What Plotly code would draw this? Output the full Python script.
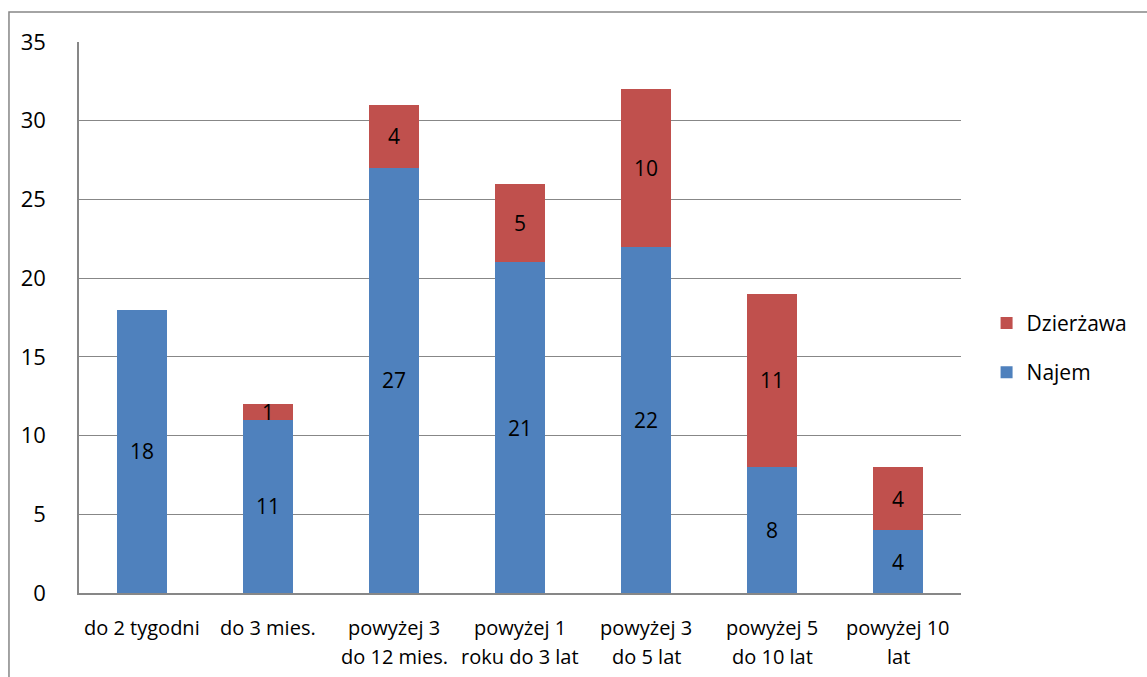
import plotly.graph_objects as go

categories = ["do 2 tygodni", "do 3 mies.", "powyżej 3 do 12 mies.", "powyżej 1 roku do 3 lat",
              "powyżej 3 do 5 lat", "powyżej 5 do 10 lat", "powyżej 10 lat"]
label_line1 = ["do 2 tygodni", "do 3 mies.", "powyżej 3", "powyżej 1", "powyżej 3", "powyżej 5", "powyżej 10"]
label_line2 = ["", "", "do 12 mies.", "roku do 3 lat", "do 5 lat", "do 10 lat", "lat"]
najem = [18, 11, 27, 21, 22, 8, 4]
dzierzawa = [None, 1, 4, 5, 10, 11, 4]
y_ticks = [0, 5, 10, 15, 20, 25, 30, 35]

FONT = "Open Sans"
GRID = "#878787"

fig = go.Figure()
fig.add_trace(go.Bar(
    x=categories, y=najem, name="Najem", legendgroup="a", legendrank=2,
    marker=dict(color="#4F81BD", line=dict(width=0)),
    text=najem, texttemplate="%{text}", textposition="inside",
    insidetextanchor="middle", constraintext="none", textangle=0,
    textfont=dict(family=FONT, size=21, color="black"),
))
fig.add_trace(go.Bar(
    x=categories, y=dzierzawa, name="Dzierżawa", legendgroup="b", legendrank=1,
    marker=dict(color="#C0504D", line=dict(width=0)),
    text=dzierzawa, texttemplate="%{text}", textposition="inside",
    insidetextanchor="middle", constraintext="none", textangle=0,
    textfont=dict(family=FONT, size=21, color="black"),
))

# two-line category labels below the axis
for cat, l1, l2 in zip(categories, label_line1, label_line2):
    fig.add_annotation(x=cat, y=0, xref="x", yref="y", text=l1, showarrow=False,
                       yanchor="middle", yshift=-34, font=dict(family=FONT, size=20, color="black"))
    if l2:
        fig.add_annotation(x=cat, y=0, xref="x", yref="y", text=l2, showarrow=False,
                           yanchor="middle", yshift=-63, font=dict(family=FONT, size=20, color="black"))

# outer chart frame
fig.add_shape(type="rect", xref="paper", yref="paper", x0=-0.0794, x1=2, y0=-1, y1=1.0544,
              line=dict(color="#868686", width=1.5), fillcolor="rgba(0,0,0,0)", layer="below")

fig.update_layout(
    barmode="stack",
    bargap=0.603,
    width=1147, height=677,
    margin=dict(l=79, r=186, t=42, b=84),
    plot_bgcolor="white", paper_bgcolor="white",
    font=dict(family=FONT, size=21, color="black"),
    showlegend=True,
    legend=dict(x=1.029, y=0.445, xanchor="left", yanchor="middle",
                traceorder="grouped", tracegroupgap=19,
                font=dict(family=FONT, size=21, color="black"),
                bgcolor="rgba(0,0,0,0)", borderwidth=0),
    xaxis=dict(showticklabels=False, showline=True, linecolor=GRID, linewidth=1.5,
               showgrid=False, ticks=""),
    yaxis=dict(range=[0, 35], tickvals=y_ticks, showgrid=True, gridcolor=GRID, gridwidth=1.3,
               showline=True, linecolor=GRID, linewidth=1.5, ticks="",
               ticklabelstandoff=27, zeroline=False,
               tickfont=dict(family=FONT, size=22, color="black")),
)

fig.write_html("out.html")
